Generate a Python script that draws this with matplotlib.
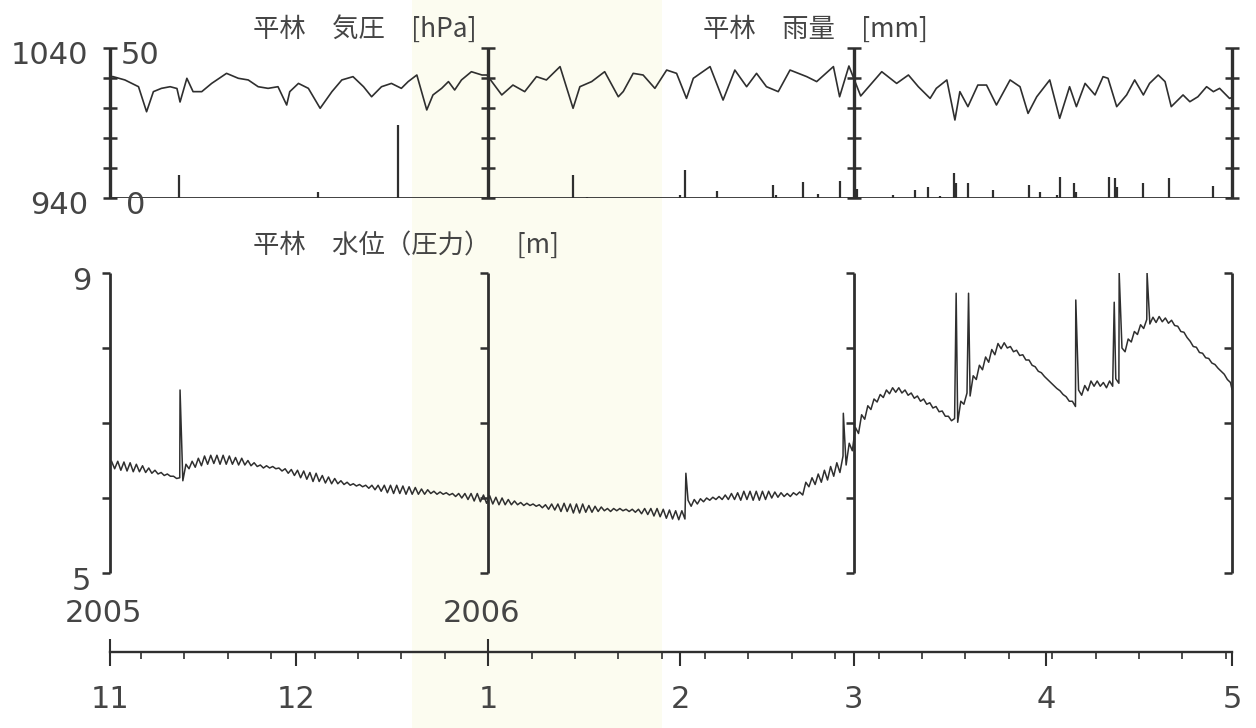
import numpy as np
import pandas as pd
import matplotlib
matplotlib.use("Agg")
import matplotlib.pyplot as plt
import matplotlib.dates as mdates
import matplotlib.transforms as mtransforms
from matplotlib.patches import Rectangle
from matplotlib.ticker import FuncFormatter

# ---------------------------------------------------------------- data
# time is counted in days since 2005-11-01 00:00
START = "2005-11-01"
END = "2006-05-01"
frame_dates = ["2005-11-01", "2006-01-01", "2006-03-01", "2006-05-01"]
year_marks = {"2005": "2005-11-01", "2006": "2006-01-01"}

# station pressure [hPa]
pressure_day = [0.0, 0.5, 2.4, 4.6, 5.9, 7.0, 8.3, 9.7, 10.8, 11.3, 12.4, 13.4, 14.8,
                16.4, 18.8, 20.7, 22.3, 23.9, 25.5, 27.1, 28.5, 29.0, 30.4, 32.0,
                33.9, 35.8, 37.4, 39.2, 40.9, 42.2, 43.8, 45.4, 47.0, 48.1, 49.5,
                51.1, 52.1, 53.5, 54.6, 55.6, 56.7, 58.3, 60.0, 60.8, 63.2, 65.0,
                66.9, 68.8, 70.4, 72.6, 74.7, 75.8, 77.7, 79.8, 82.0, 82.8, 84.4,
                86.0, 87.9, 89.8, 91.4, 93.0, 94.1, 96.8, 98.9, 100.8, 102.7, 104.3,
                105.9, 107.8, 109.7, 112.4, 114.0, 116.7, 117.7, 119.2, 121.1, 124.5,
                126.9, 128.8, 130.4, 132.3, 133.3, 135.0, 136.3, 137.1, 138.4, 140.0,
                141.4, 143.0, 145.2, 146.8, 148.1, 149.5, 151.6, 153.2, 154.8, 155.9,
                157.3, 158.9, 160.2, 161.0, 162.4, 164.0, 165.3, 166.7, 167.7, 169.1,
                170.2, 171.2, 173.1, 174.2, 175.5, 176.9, 178.0, 179.0, 180.6, 181.0]
pressure_hpa = [1021.0, 1020.9, 1018.7, 1014.2, 997.5, 1010.9, 1013.1, 1014.2, 1013.0,
                1004.0, 1019.8, 1010.9, 1010.9, 1016.4, 1023.1, 1019.8, 1018.7, 1014.2,
                1013.1, 1014.2, 1002.0, 1010.9, 1016.4, 1013.1, 999.8, 1010.9, 1018.7,
                1020.9, 1014.2, 1007.5, 1014.2, 1016.4, 1013.1, 1017.6, 1022.0, 998.7,
                1008.7, 1013.1, 1017.6, 1012.0, 1018.7, 1024.2, 1022.0, 1022.0, 1008.7,
                1015.3, 1010.9, 1020.9, 1018.7, 1027.6, 999.8, 1014.2, 1017.6, 1024.2,
                1007.5, 1011.0, 1023.1, 1022.0, 1013.1, 1025.3, 1023.1, 1006.4, 1019.8,
                1027.6, 1005.3, 1025.3, 1014.2, 1023.1, 1014.2, 1010.9, 1025.3, 1020.9,
                1017.6, 1027.6, 1007.5, 1028.0, 1008.0, 1024.2, 1016.4, 1022.0, 1014.2,
                1006.4, 1013.1, 1018.7, 992.0, 1010.9, 1000.9, 1015.3, 1015.3, 1002.0,
                1018.7, 1014.2, 996.4, 1007.5, 1018.7, 993.1, 1014.2, 1000.9, 1016.4,
                1008.7, 1020.9, 1019.8, 1000.9, 1008.7, 1018.7, 1008.7, 1016.4, 1022.0,
                1017.6, 1000.9, 1008.7, 1004.2, 1007.5, 1014.2, 1010.9, 1013.1, 1006.4,
                1007.0]

# rainfall [mm]
rain_day = [11.1, 33.6, 46.4, 74.7, 77.0, 92.0, 92.8, 97.9, 107.0, 107.5, 111.8, 114.2,
            117.7, 120.5, 126.3, 129.8, 131.9, 133.9, 136.2, 136.5, 138.4, 142.4, 148.2,
            150.0, 152.7, 153.2, 155.5, 155.8, 161.1, 162.1, 162.4, 166.6, 170.8, 177.9]
rain_mm = [7.7, 2.0, 24.3, 7.7, 0.5, 1.0, 9.3, 2.3, 4.3, 1.0, 5.4, 1.3,
           5.7, 3.0, 1.0, 2.7, 3.6, 0.7, 8.2, 5.0, 4.9, 2.7, 4.3,
           2.0, 1.0, 7.1, 4.9, 2.0, 6.9, 6.6, 3.6, 4.9, 6.8, 4.1]

# water level [m]: daily high (around 06h) and low (around 18h)
level_hi = [6.49, 6.49, 6.48, 6.47, 6.45, 6.43, 6.40, 6.37, 6.34, 6.32,
            6.29, 6.27, 6.45, 6.49, 6.53, 6.56, 6.57, 6.57, 6.57, 6.56,
            6.54, 6.53, 6.50, 6.47, 6.44, 6.43, 6.42, 6.40, 6.39, 6.38,
            6.37, 6.36, 6.34, 6.33, 6.30, 6.28, 6.26, 6.23, 6.21, 6.19,
            6.18, 6.17, 6.17, 6.17, 6.17, 6.17, 6.17, 6.16, 6.15, 6.14,
            6.12, 6.11, 6.09, 6.08, 6.07, 6.06, 6.06, 6.06, 6.06, 6.06,
            6.04, 6.03, 6.01, 6.00, 5.98, 5.96, 5.94, 5.93, 5.92, 5.91,
            5.91, 5.92, 5.92, 5.93, 5.92, 5.92, 5.92, 5.90, 5.89, 5.88,
            5.86, 5.86, 5.86, 5.85, 5.85, 5.85, 5.86, 5.86, 5.86, 5.85,
            5.84, 5.83, 5.83, 5.97, 5.98, 5.99, 6.00, 6.01, 6.02, 6.04,
            6.06, 6.07, 6.09, 6.09, 6.09, 6.09, 6.09, 6.08, 6.07, 6.06,
            6.07, 6.08, 6.21, 6.27, 6.32, 6.37, 6.42, 6.47, 6.56, 6.73,
            6.94, 7.11, 7.23, 7.32, 7.38, 7.44, 7.47, 7.47, 7.44, 7.40,
            7.36, 7.32, 7.27, 7.22, 7.16, 7.09, 7.06, 7.29, 7.40, 7.63,
            7.77, 7.88, 7.98, 8.06, 8.07, 8.02, 7.97, 7.91, 7.84, 7.75,
            7.67, 7.58, 7.50, 7.43, 7.35, 7.29, 7.44, 7.50, 7.56, 7.56,
            7.54, 7.56, 7.59, 8.00, 8.12, 8.22, 8.31, 8.38, 8.41, 8.42,
            8.40, 8.37, 8.29, 8.21, 8.09, 8.01, 7.93, 7.86, 7.78, 7.69, 7.58]
level_lo = [6.39, 6.37, 6.36, 6.35, 6.35, 6.34, 6.33, 6.32, 6.30, 6.29,
            6.26, 6.23, 6.39, 6.41, 6.43, 6.45, 6.46, 6.45, 6.45, 6.45,
            6.44, 6.44, 6.43, 6.42, 6.40, 6.40, 6.39, 6.36, 6.33, 6.30,
            6.27, 6.25, 6.22, 6.22, 6.20, 6.19, 6.19, 6.18, 6.17, 6.16,
            6.15, 6.13, 6.11, 6.09, 6.07, 6.06, 6.06, 6.05, 6.05, 6.05,
            6.05, 6.06, 6.05, 6.05, 6.04, 6.02, 6.00, 5.98, 5.96, 5.95,
            5.93, 5.92, 5.91, 5.91, 5.91, 5.91, 5.90, 5.90, 5.89, 5.87,
            5.85, 5.84, 5.82, 5.82, 5.80, 5.80, 5.81, 5.81, 5.82, 5.83,
            5.82, 5.83, 5.83, 5.82, 5.81, 5.79, 5.78, 5.76, 5.75, 5.73,
            5.72, 5.71, 5.72, 5.89, 5.92, 5.95, 5.97, 5.98, 5.98, 5.98,
            5.98, 5.97, 5.98, 5.97, 5.97, 5.98, 6.00, 6.01, 6.02, 6.02,
            6.04, 6.04, 6.15, 6.18, 6.21, 6.24, 6.29, 6.34, 6.44, 6.63,
            6.86, 7.05, 7.18, 7.28, 7.34, 7.39, 7.41, 7.40, 7.37, 7.33,
            7.29, 7.25, 7.20, 7.15, 7.09, 7.03, 7.01, 7.25, 7.36, 7.58,
            7.71, 7.81, 7.91, 7.99, 8.00, 7.95, 7.90, 7.84, 7.77, 7.69,
            7.62, 7.54, 7.46, 7.38, 7.29, 7.22, 7.37, 7.43, 7.49, 7.49,
            7.47, 7.49, 7.53, 7.95, 8.08, 8.18, 8.26, 8.32, 8.34, 8.35,
            8.33, 8.30, 8.22, 8.14, 8.02, 7.94, 7.87, 7.80, 7.73, 7.65, 7.54]
level_end = 7.45
# short pressure surges in the record
surge_day = [11.3, 92.9, 118.3, 136.5, 138.5, 155.8, 162.0, 162.8, 167.3]
surge_level = [7.44, 6.33, 7.13, 8.73, 8.73, 8.64, 8.61, 9.00, 9.00]

# axis scales and labels
p_ticks = [940, 960, 980, 1000, 1020, 1040]
r_range = (0, 50)
w_ticks = [5, 6, 7, 8, 9]

# ---------------------------------------------------------------- style
INK = "#2f2f2f"
TXT = "#454545"
JP = ["Noto Sans CJK JP", "DejaVu Sans"]
plt.rcParams["font.family"] = ["DejaVu Sans"]

W, H = 1256, 728
fig = plt.figure(figsize=(W / 100, H / 100), dpi=100)
fig.patch.set_facecolor("white")
# faint paper tone across the middle of the sheet
fig.patches.append(Rectangle((412 / W, 0), 250 / W, 1, transform=fig.transFigure,
                             facecolor="#fcfcf0", edgecolor="none", zorder=-10))


def box(x0, y0, x1, y1):
    return [x0 / W, 1 - y1 / H, (x1 - x0) / W, (y1 - y0) / H]


t0 = mdates.date2num(pd.Timestamp(START))
t1 = mdates.date2num(pd.Timestamp(END))
frames = [mdates.date2num(pd.Timestamp(d)) for d in frame_dates]


def tday(days):
    return t0 + np.asarray(days, dtype=float)


def shifted(ax, dx, dy):
    return mtransforms.offset_copy(ax.transData, fig=fig, x=dx, y=dy, units="dots")


# ---------------------------------------------------------------- pressure / rain
ax_p = fig.add_axes(box(110, 48, 1232, 198))
ax_p.set_xlim(t0, t1)
ax_p.set_ylim(p_ticks[0], p_ticks[-1])
ax_p.set_axis_off()
ax_r = fig.add_axes(box(110, 48, 1232, 198), sharex=ax_p)
ax_r.set_ylim(*r_range)
ax_r.set_axis_off()
ax_r.patch.set_visible(False)

ax_p.plot(tday(pressure_day), pressure_hpa, color=INK, lw=1.2, zorder=3)
ax_r.vlines(tday(rain_day), 0, rain_mm, color=INK, lw=1.6, zorder=3)
ax_r.axhline(0, color=INK, lw=2.0, zorder=2)

for fx in frames:
    ax_p.plot([fx, fx], [p_ticks[0], p_ticks[-1]], color=INK, lw=2.4,
              solid_capstyle="butt", clip_on=False, zorder=4)
    ax_p.plot([fx] * len(p_ticks), p_ticks, ls="none", marker="_", ms=10,
              mew=1.8, color=INK, clip_on=False, zorder=4)

ax_p.text(t0, p_ticks[-1], str(p_ticks[-1]), transform=shifted(ax_p, -22, -8),
          ha="right", va="center", fontsize=22, color=TXT)
ax_p.text(t0, p_ticks[0], str(p_ticks[0]), transform=shifted(ax_p, -22, -8),
          ha="right", va="center", fontsize=22, color=TXT)
ax_r.text(t0, r_range[1], str(r_range[1]), transform=shifted(ax_r, 11, -8),
          ha="left", va="center", fontsize=22, color=TXT)
ax_r.text(t0, r_range[0], str(r_range[0]), transform=shifted(ax_r, 16, -8),
          ha="left", va="center", fontsize=22, color=TXT)

fig.text(253 / W, 1 - 29 / H, "平林　気圧　[hPa]", family=JP, fontsize=19,
         color=TXT, ha="left", va="center")
fig.text(703 / W, 1 - 29 / H, "平林　雨量　[mm]", family=JP, fontsize=19,
         color=TXT, ha="left", va="center")

# ---------------------------------------------------------------- water level
ax_w = fig.add_axes(box(110, 273, 1232, 573), sharex=ax_p)
ax_w.set_ylim(w_ticks[0], w_ticks[-1])
ax_w.set_axis_off()

wt = [d + 0.25 for d in range(len(level_hi))] + [d + 0.75 for d in range(len(level_lo))]
wv = list(level_hi) + list(level_lo)
wt += [float(len(level_hi))] + surge_day
wv += [level_end] + surge_level
order = np.argsort(wt, kind="stable")
ax_w.plot(tday(np.asarray(wt)[order]), np.asarray(wv)[order], color=INK, lw=1.1,
          zorder=3)

for fx in frames:
    ax_w.plot([fx, fx], [w_ticks[0], w_ticks[-1]], color=INK, lw=2.0,
              solid_capstyle="butt", clip_on=False, zorder=4)
    ax_w.plot([fx] * len(w_ticks), w_ticks, ls="none", marker=0, ms=5.5,
              mew=1.8, color=INK, clip_on=False, zorder=4)

for v in (w_ticks[-1], w_ticks[0]):
    ax_w.text(t0, v, str(v), transform=shifted(ax_w, -19, -9),
              ha="right", va="center", fontsize=22, color=TXT)

fig.text(253 / W, 1 - 245 / H, "平林　水位（圧力）　[m]", family=JP, fontsize=19,
         color=TXT, ha="left", va="center")

# ---------------------------------------------------------------- time axis
ax_t = fig.add_axes(box(110, 612, 1232, 652), sharex=ax_p)
ax_t.set_ylim(0, 1)
ax_t.patch.set_visible(False)
for side in ("top", "left", "right"):
    ax_t.spines[side].set_visible(False)
ax_t.spines["bottom"].set_linewidth(1.7)
ax_t.spines["bottom"].set_color(INK)
ax_t.set_yticks([])
ax_t.xaxis.set_major_locator(mdates.MonthLocator())
ax_t.xaxis.set_minor_locator(mdates.WeekdayLocator(byweekday=mdates.SU))
ax_t.xaxis.set_major_formatter(
    FuncFormatter(lambda x, pos: str(mdates.num2date(x).month)))
ax_t.tick_params(axis="x", which="major", direction="out", length=10, width=1.5,
                 color=INK, pad=14, labelsize=22, labelcolor=TXT)
ax_t.tick_params(axis="x", which="minor", direction="out", length=5, width=1.2,
                 color=INK)
ax_t.set_xlim(t0, t1)

for label, d in year_marks.items():
    yx = mdates.date2num(pd.Timestamp(d))
    ax_t.vlines(yx, 0, 0.32, color=INK, lw=1.5, clip_on=False)
    ax_t.text(yx - 1, 0.95, label, ha="center", va="center", fontsize=22, color=TXT)

fig.savefig("out.png", dpi=100, facecolor=fig.get_facecolor())
